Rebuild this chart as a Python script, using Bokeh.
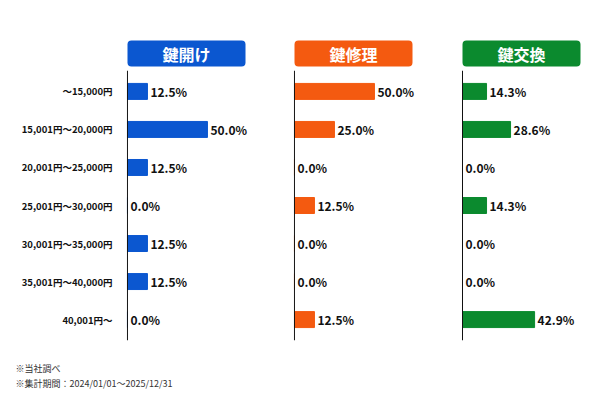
from bokeh.plotting import figure
from bokeh.models import ColumnDataSource, FactorRange, Range1d, Span, Title
from bokeh.layouts import row, column
from bokeh.core.properties import value
from bokeh.embed import file_html
from bokeh.resources import INLINE

FONT = "Noto Sans CJK JP"

# price bands (top to bottom)
price_bands = ["～15,000円", "15,001円～20,000円", "20,001円～25,000円", "25,001円～30,000円",
               "30,001円～35,000円", "35,001円～40,000円", "40,001円～"]

services = ["鍵開け", "鍵修理", "鍵交換"]
unlock_pct = [12.5, 50.0, 12.5, 0.0, 12.5, 12.5, 0.0]
repair_pct = [50.0, 25.0, 0.0, 12.5, 0.0, 0.0, 12.5]
replace_pct = [14.3, 28.6, 0.0, 14.3, 0.0, 0.0, 42.9]

notes = ["※当社調べ", "※集計期間：2024/01/01～2025/12/31"]

colors = ["#0b57d0", "#f45a10", "#0b8a2e"]


def make_panel(name, values, color, frame_width, px_per_pct, show_labels):
    source = ColumnDataSource(dict(
        band=price_bands,
        pct=values,
        label=[f"{v:.1f}%" for v in values],
    ))
    start = -0.6
    p = figure(
        y_range=FactorRange(factors=list(reversed(price_bands)), range_padding=0.05,
                            range_padding_units="absolute"),
        x_range=Range1d(start, start + frame_width / px_per_pct),
        frame_width=frame_width, frame_height=270,
        min_border_left=126 if show_labels else 0, min_border_right=0,
        min_border_top=70, min_border_bottom=8,
        toolbar_location=None, tools="", output_backend="svg",
        background_fill_color="white", border_fill_color="white",
        outline_line_color=None,
        x_axis_location=None,
        y_axis_location="left" if show_labels else None,
    )
    p.hbar(y="band", right="pct", left=0, height=0.42, color=color, source=source)
    p.text(x="pct", y="band", text="label", source=source, x_offset=3,
           text_baseline="middle", text_align="left", text_font=value(FONT),
           text_font_style="bold", text_font_size="12px", text_color="#111111")
    p.add_layout(Span(location=0, dimension="height", line_color="#111111", line_width=1))

    p.grid.grid_line_color = None
    if show_labels:
        p.yaxis.axis_line_color = None
        p.yaxis.major_tick_line_color = None
        p.yaxis.minor_tick_line_color = None
        p.yaxis.major_label_standoff = 8
        p.yaxis.major_label_text_font = FONT
        p.yaxis.major_label_text_font_style = "bold"
        p.yaxis.major_label_text_font_size = "9.5px"
        p.yaxis.major_label_text_color = "#111111"

    p.title = Title(text=name, align="left", offset=1, standoff=8,
                    text_font=FONT, text_font_style="bold", text_font_size="16px",
                    text_color="white", background_fill_color=color,
                    border_radius=4, padding=(35, 1))
    return p


p1 = make_panel(services[0], unlock_pct, colors[0], 167, 1.6, True)
p2 = make_panel(services[1], repair_pct, colors[1], 168, 1.6, False)
p3 = make_panel(services[2], replace_pct, colors[2], 122, 1.68, False)

foot = figure(width=583, height=42, x_range=Range1d(0, 583), y_range=Range1d(42, 0),
              toolbar_location=None, tools="", output_backend="svg",
              x_axis_location=None, y_axis_location=None, outline_line_color=None,
              min_border=0)
foot.grid.grid_line_color = None
foot.text(x=[15, 15], y=[20, 35], text=notes, text_baseline="middle",
          text_font=value(FONT), text_font_size="9px", text_color="#333333")

p = column(row(p1, p2, p3), foot)

open("out.html", "w").write(file_html(p, INLINE))
